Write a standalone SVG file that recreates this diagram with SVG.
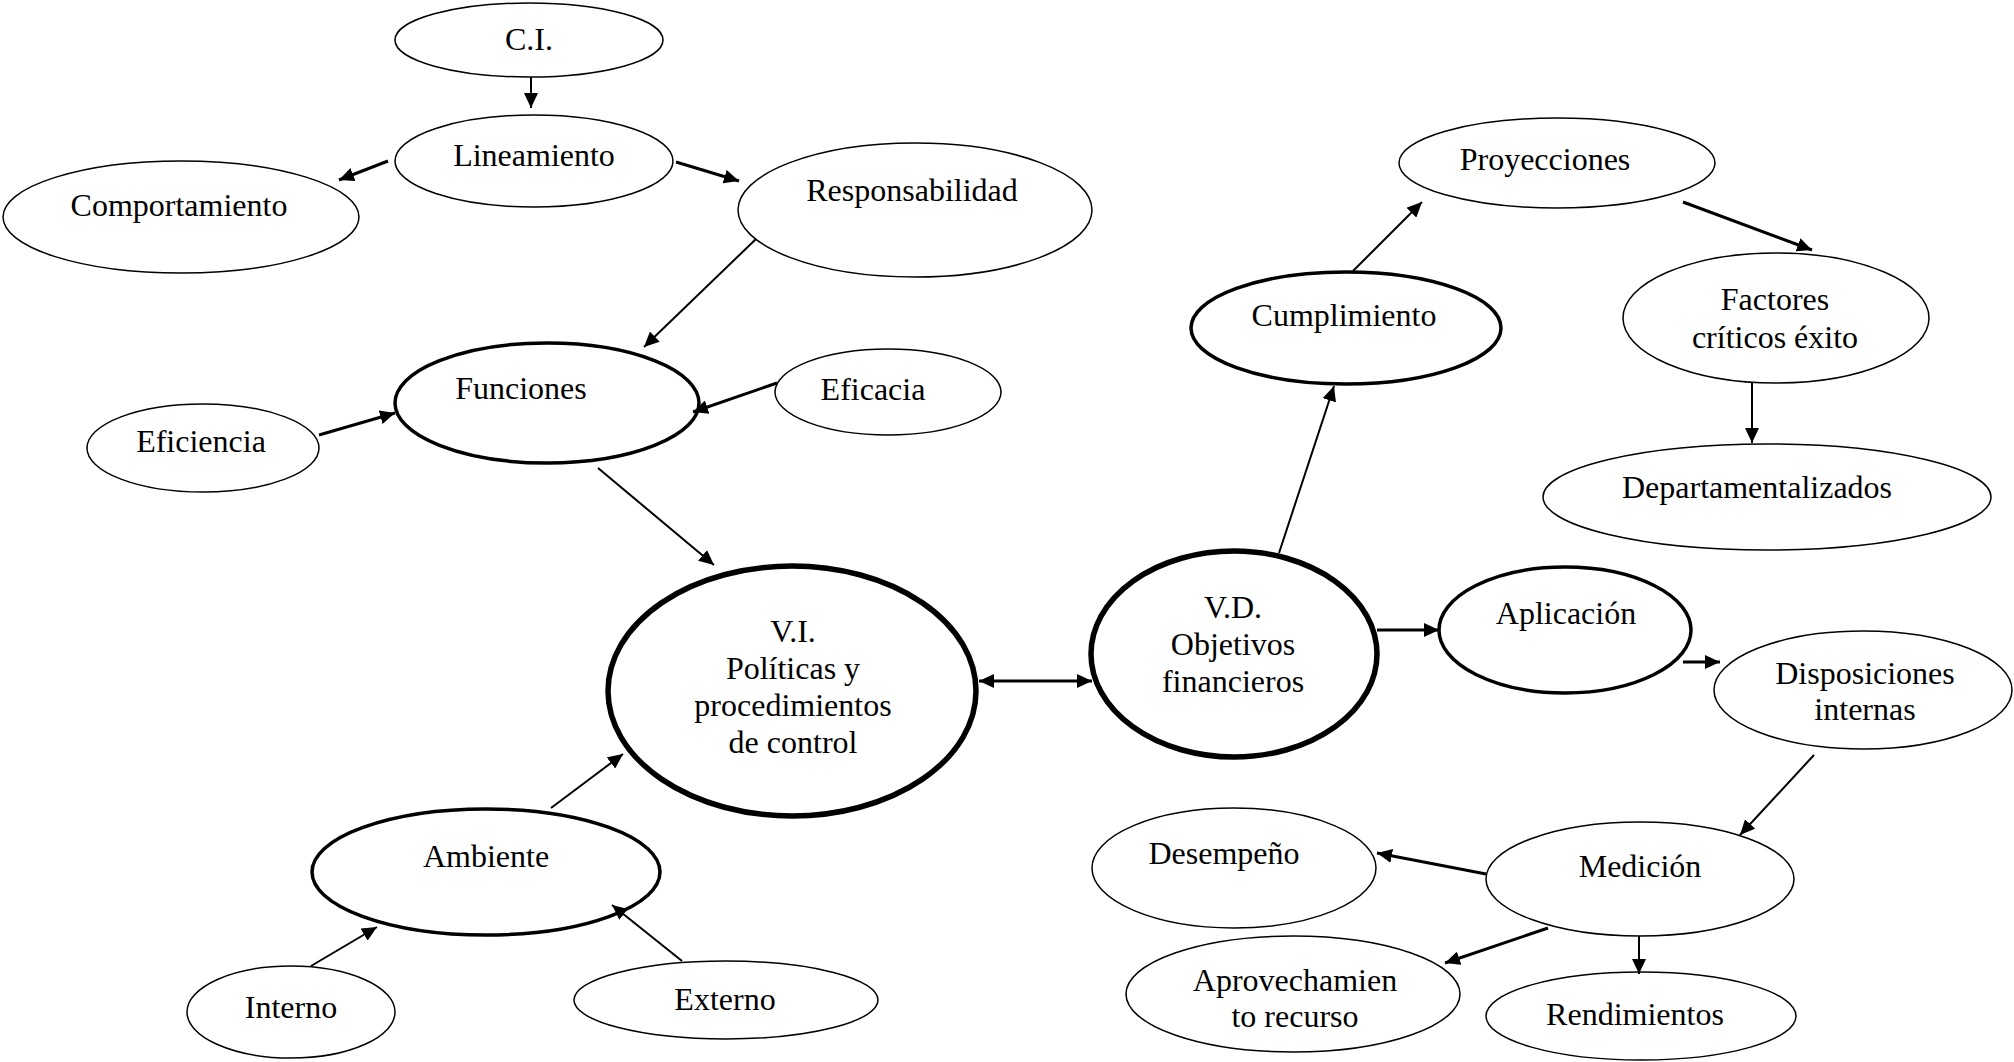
<svg xmlns="http://www.w3.org/2000/svg" width="2014" height="1062" viewBox="0 0 2014 1062">
  <style>
    .n { fill: #fff; stroke: #000; stroke-width: 1.5; }
    .m { stroke-width: 3.5; }
    .b { stroke-width: 5.5; }
    text { font-family: "Liberation Serif", "Times New Roman", serif; font-size: 32px; fill: #000; text-anchor: middle; }
    .c { stroke: #000; stroke-width: 2; fill: none; marker-end: url(#ah); }
    .w { stroke-width: 3; }
  </style>
  <defs>
    <marker id="ah" markerUnits="userSpaceOnUse" markerWidth="16" markerHeight="14" refX="15" refY="7" orient="auto">
      <path d="M0,0 L15,7 L0,14 Z" fill="#000"/>
    </marker>
    <marker id="as" markerUnits="userSpaceOnUse" markerWidth="16" markerHeight="14" refX="0" refY="7" orient="auto">
      <path d="M15,0 L0,7 L15,14 Z" fill="#000"/>
    </marker>
  </defs>

  <rect width="2014" height="1062" fill="#fff"/>

  <!-- left branch -->
  <g id="ci">
    <ellipse class="n" cx="529" cy="40" rx="134" ry="37"/>
    <text x="529" y="50">C.I.</text>
  </g>
  <g id="lineamiento">
    <ellipse class="n" cx="534" cy="161" rx="139" ry="46"/>
    <text x="534" y="166">Lineamiento</text>
  </g>
  <g id="comportamiento">
    <ellipse class="n" cx="181" cy="217" rx="178" ry="56"/>
    <text x="179" y="216">Comportamiento</text>
  </g>
  <g id="responsabilidad">
    <ellipse class="n" cx="915" cy="210" rx="177" ry="67"/>
    <text x="912" y="201">Responsabilidad</text>
  </g>
  <g id="funciones">
    <ellipse class="n m" cx="547" cy="403" rx="152" ry="60"/>
    <text x="521" y="399">Funciones</text>
  </g>
  <g id="eficacia">
    <ellipse class="n" cx="888" cy="392" rx="113" ry="43"/>
    <text x="873" y="400">Eficacia</text>
  </g>
  <g id="eficiencia">
    <ellipse class="n" cx="203" cy="448" rx="116" ry="44"/>
    <text x="201" y="452">Eficiencia</text>
  </g>

  <!-- independent variable -->
  <g id="vi">
    <ellipse class="n b" cx="792" cy="691" rx="184" ry="125"/>
    <text x="793" y="642">V.I.</text>
    <text x="793" y="679">Políticas y</text>
    <text x="793" y="716">procedimientos</text>
    <text x="793" y="753">de control</text>
  </g>
  <g id="ambiente">
    <ellipse class="n m" cx="486" cy="872" rx="174" ry="63"/>
    <text x="486" y="867">Ambiente</text>
  </g>
  <g id="interno">
    <ellipse class="n" cx="291" cy="1012" rx="104" ry="46"/>
    <text x="291" y="1018">Interno</text>
  </g>
  <g id="externo">
    <ellipse class="n" cx="726" cy="1000" rx="152" ry="39"/>
    <text x="725" y="1010">Externo</text>
  </g>

  <!-- dependent variable -->
  <g id="vd">
    <ellipse class="n b" cx="1234" cy="654" rx="143" ry="103"/>
    <text x="1233" y="618">V.D.</text>
    <text x="1233" y="655">Objetivos</text>
    <text x="1233" y="692">financieros</text>
  </g>
  <g id="cumplimiento">
    <ellipse class="n m" cx="1346" cy="328" rx="155" ry="56"/>
    <text x="1344" y="326">Cumplimiento</text>
  </g>
  <g id="proyecciones">
    <ellipse class="n" cx="1557" cy="163" rx="158" ry="45"/>
    <text x="1545" y="170">Proyecciones</text>
  </g>
  <g id="factores">
    <ellipse class="n" cx="1776" cy="318" rx="153" ry="65"/>
    <text x="1775" y="310">Factores</text>
    <text x="1775" y="348">críticos éxito</text>
  </g>
  <g id="departamentalizados">
    <ellipse class="n" cx="1767" cy="497" rx="224" ry="53"/>
    <text x="1757" y="498">Departamentalizados</text>
  </g>
  <g id="aplicacion">
    <ellipse class="n m" cx="1565" cy="630" rx="126" ry="63"/>
    <text x="1566" y="624">Aplicación</text>
  </g>
  <g id="disposiciones">
    <ellipse class="n" cx="1863" cy="690" rx="149" ry="59"/>
    <text x="1865" y="684">Disposiciones</text>
    <text x="1865" y="720">internas</text>
  </g>
  <g id="medicion">
    <ellipse class="n" cx="1640" cy="879" rx="154" ry="57"/>
    <text x="1640" y="877">Medición</text>
  </g>
  <g id="desempeno">
    <ellipse class="n" cx="1234" cy="868" rx="142" ry="60"/>
    <text x="1224" y="864">Desempeño</text>
  </g>
  <g id="aprovechamiento">
    <ellipse class="n" cx="1293" cy="994" rx="167" ry="58"/>
    <text x="1295" y="991">Aprovechamien</text>
    <text x="1295" y="1027">to recurso</text>
  </g>
  <g id="rendimientos">
    <ellipse class="n" cx="1641" cy="1016" rx="155" ry="44"/>
    <text x="1635" y="1025">Rendimientos</text>
  </g>

  <!-- connectors, drawn over the node outlines -->
  <g id="connectors">
    <line class="c" x1="531" y1="77" x2="531" y2="108"/>
    <line class="c w" x1="388" y1="161" x2="339" y2="180"/>
    <line class="c w" x1="676" y1="162" x2="739" y2="181"/>
    <line class="c" x1="756" y1="239" x2="644" y2="347"/>
    <line class="c w" x1="777" y1="383" x2="693" y2="412"/>
    <line class="c w" x1="319" y1="435" x2="395" y2="413"/>
    <line class="c" x1="598" y1="468" x2="714" y2="565"/>
    <line class="c" x1="551" y1="808" x2="623" y2="754"/>
    <line class="c" x1="311" y1="966" x2="377" y2="927"/>
    <line class="c" x1="682" y1="961" x2="612" y2="905"/>
    <line class="c w" x1="979" y1="681" x2="1092" y2="681" marker-start="url(#as)"/>
    <line class="c" x1="1279" y1="553" x2="1334" y2="386"/>
    <line class="c" x1="1353" y1="271" x2="1422" y2="202"/>
    <line class="c w" x1="1683" y1="202" x2="1812" y2="250"/>
    <line class="c" x1="1752" y1="383" x2="1752" y2="443"/>
    <line class="c w" x1="1377" y1="630" x2="1439" y2="630"/>
    <line class="c w" x1="1683" y1="662" x2="1720" y2="662"/>
    <line class="c" x1="1814" y1="755" x2="1740" y2="835"/>
    <line class="c w" x1="1486" y1="874" x2="1377" y2="853"/>
    <line class="c w" x1="1548" y1="928" x2="1445" y2="963"/>
    <line class="c" x1="1639" y1="936" x2="1639" y2="974"/>
  </g>
</svg>
